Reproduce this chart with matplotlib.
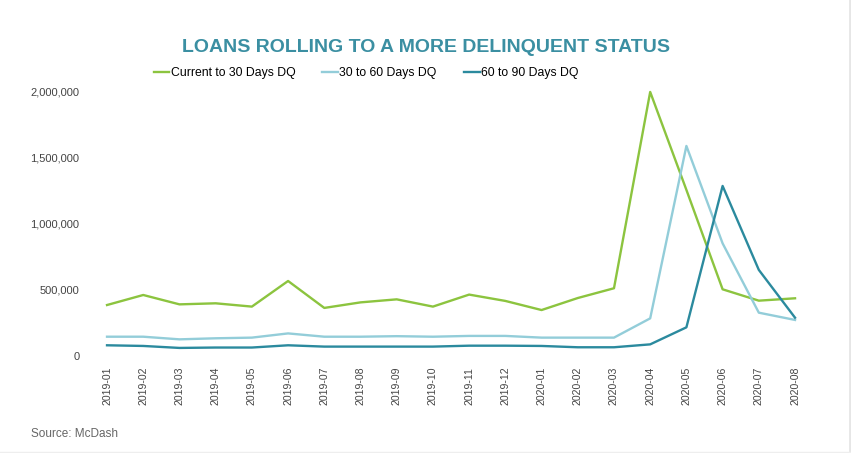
import numpy as np
import matplotlib
matplotlib.use("Agg")
import matplotlib.pyplot as plt
from matplotlib.ticker import FuncFormatter

plt.rcParams['font.family'] = ['Liberation Sans', 'DejaVu Sans']

months = ["2019-01", "2019-02", "2019-03", "2019-04", "2019-05", "2019-06",
          "2019-07", "2019-08", "2019-09", "2019-10", "2019-11", "2019-12",
          "2020-01", "2020-02", "2020-03", "2020-04", "2020-05", "2020-06",
          "2020-07", "2020-08"]
current_to_30 = [386000, 462000, 391000, 399000, 374000, 568000, 364000, 406000,
                 429000, 374000, 465000, 417000, 348000, 439000, 513000, 2000000,
                 1258000, 505000, 419000, 437000]
dq_30_to_60 = [146000, 146000, 126000, 134000, 139000, 171000, 146000, 146000,
               150000, 146000, 152000, 152000, 139000, 139000, 139000, 285000,
               1591000, 853000, 328000, 273000]
dq_60_to_90 = [81000, 76000, 61000, 64000, 64000, 81000, 71000, 71000,
               71000, 71000, 78000, 78000, 76000, 66000, 66000, 88000,
               217000, 1288000, 652000, 290000]
series_names = ["Current to 30 Days DQ", "30 to 60 Days DQ", "60 to 90 Days DQ"]
colors = ["#8cc43f", "#93cdd9", "#2b8a9e"]

fig = plt.figure(figsize=(8.51, 4.53), dpi=100)
ax = fig.add_axes([0.113, 0.1996, 0.834, 0.612])

x = np.arange(len(months))
for vals, name, c in zip([current_to_30, dq_30_to_60, dq_60_to_90], series_names, colors):
    ax.plot(x, vals, color=c, lw=1.7, label=name)

ax.set_xlim(-0.3, len(months) - 1 + 0.3)
ax.set_ylim(-50000, 2050000)
ax.set_yticks([0, 500000, 1000000, 1500000, 2000000])
ax.yaxis.set_major_formatter(FuncFormatter(lambda v, p: f"{int(v):,}"))
ax.set_xticks(x)
ax.set_xticklabels(months, rotation=90, va="top")
ax.tick_params(axis="both", length=0, labelcolor="#444444")
ax.tick_params(axis="y", pad=12, labelsize=8)
ax.tick_params(axis="x", pad=3, labelsize=7.6)
for s in ax.spines.values():
    s.set_visible(False)

fig.text(0.5, 0.896, "LOANS ROLLING TO A MORE DELINQUENT STATUS", ha="center", va="center",
         fontsize=14, fontweight="bold", color="#3b8fa2")
fig.legend(loc="center", bbox_to_anchor=(0.43, 0.839), ncol=3, frameon=False,
           fontsize=8.8, handlelength=1.3, handletextpad=0.1, columnspacing=2.2)
fig.text(0.036, 0.042, "Source: McDash", ha="left", va="center", fontsize=8.5, color="#666666")

# faint page border on the right and bottom
fig.add_artist(plt.Line2D([0.9985, 0.9985], [0, 1], color="#e6e6e6", lw=2, transform=fig.transFigure))
fig.add_artist(plt.Line2D([0, 1], [0.002, 0.002], color="#eeeeee", lw=1, transform=fig.transFigure))

fig.savefig("out.png", dpi=100)
